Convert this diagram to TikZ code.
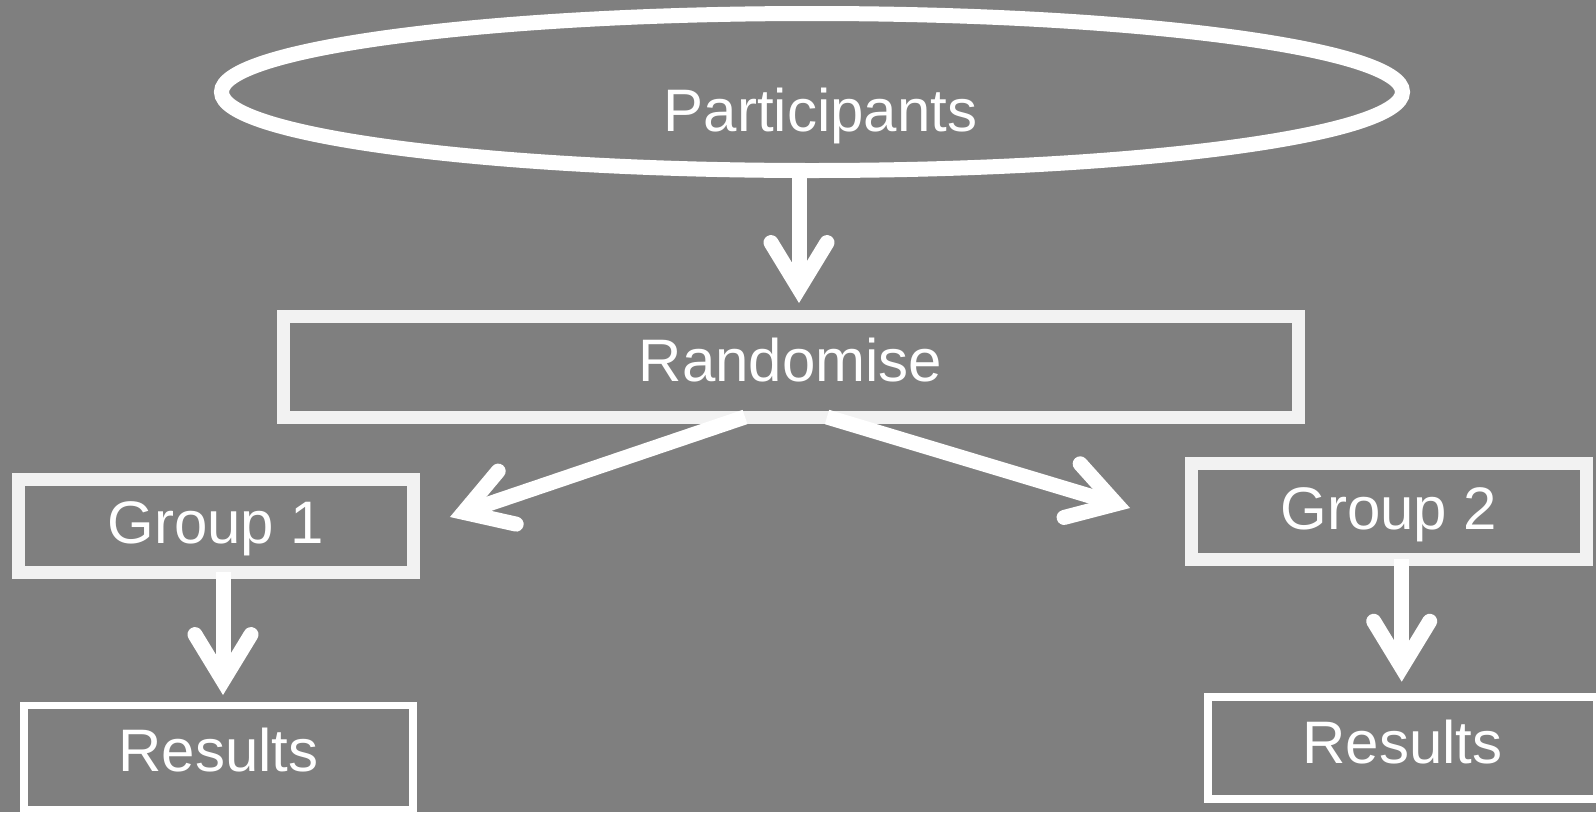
\documentclass[tikz,border=0pt]{standalone}
\usepackage{fontspec}
\setmainfont{Liberation Sans}
\usetikzlibrary{shapes.geometric,arrows.meta}
\definecolor{bg}{RGB}{127,127,127}
\definecolor{boxline}{RGB}{242,242,242}
\begin{document}
\begin{tikzpicture}[x=1pt,y=-1pt,
  every node/.style={inner sep=0pt, outer sep=0pt, text=white, font=\fontsize{60}{72}\selectfont, text depth=0pt},
  graybox/.style={draw=boxline, line width=13pt, rectangle},
  resbox/.style={draw=white, line width=7.5pt, rectangle},
  oval/.style={draw=white, line width=15pt, ellipse},
  arr/.style={draw=white, line width=15pt, -{Straight Barb[length=46pt,width=56pt,line cap=round,line join=miter]}},
]
\fill[bg] (0,0) rectangle (1596,812);
\useasboundingbox (0,0) rectangle (1596,812);

\node[oval, minimum width=1181pt, minimum height=157pt, text height=79pt] (part) at (812,92) {\hspace{17pt}Participants};
\node[graybox, minimum width=1015pt, minimum height=100.5pt, text height=29.5pt] (rand) at (790.5,366.75) {Randomise};
\node[graybox, minimum width=394.5pt, minimum height=92.5pt, text height=35pt] (g1) at (216,525.75) {Group 1\hspace{9pt}};
\node[graybox, minimum width=395pt, minimum height=96pt, text height=37pt] (g2) at (1389,511) {Group 2};
\node[resbox, minimum width=389pt, minimum height=104pt, text height=28pt] (r1) at (218.5,757.5) {Results};
\node[resbox, minimum width=389pt, minimum height=102pt, text height=30.4pt] (r2) at (1402.5,748) {Results};

\draw[arr] ([xshift=-13pt]part.south) -- ([xshift=8.5pt,yshift=13.5pt]rand.north);
\draw[arr] ([xshift=-45.5pt]rand.south) -- ([xshift=36.7pt,yshift=8.75pt]g1.east);
\draw[arr] ([xshift=36.5pt]rand.south) -- ([xshift=-61.5pt,yshift=3pt]g2.west);
\draw[arr] ([xshift=7pt]g1.south) -- ([xshift=4.5pt,yshift=10.5pt]r1.north);
\draw[arr] ([xshift=12.7pt]g2.south) -- ([xshift=-0.8pt,yshift=15.3pt]r2.north);
\end{tikzpicture}
\end{document}
